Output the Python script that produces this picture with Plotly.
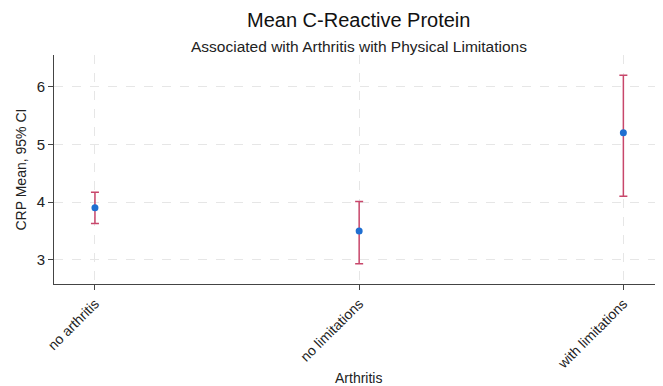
import plotly.graph_objects as go

categories = ["no arthritis", "no limitations", "with limitations"]
means = [3.90, 3.50, 5.20]
ci_lower = [3.63, 2.93, 4.10]
ci_upper = [4.17, 4.01, 6.20]

err_plus = [u - m for u, m in zip(ci_upper, means)]
err_minus = [m - l for m, l in zip(means, ci_lower)]

# page body has an 8px default margin; figure is sized/positioned to compensate
OFF = 8
W, H = 663 - OFF, 386 - OFF
ML, MR, MT, MB = 54 - OFF, 0, 55 - OFF, 102
plot_h = H - MT - MB

def py(ypix):
    # pixel row from top of window -> paper y
    return (H - MB - (ypix - OFF)) / plot_h

fig = go.Figure()
fig.add_trace(go.Scatter(
    x=list(range(len(categories))), y=means, mode="markers",
    marker=dict(color="#1f6fd1", size=7),
    error_y=dict(type="data", array=err_plus, arrayminus=err_minus,
                 color="#c8476b", thickness=1.5, width=4),
    showlegend=False,
))

font = "Liberation Sans, Arial, sans-serif"
fig.update_layout(
    width=W, height=H,
    margin=dict(l=ML, r=MR, t=MT, b=MB),
    paper_bgcolor="white", plot_bgcolor="white",
    font=dict(family=font, color="#222222", size=14),
    annotations=[
        dict(text="Mean C-Reactive Protein", x=0.5, xref="paper", y=py(20), yref="paper",
             yanchor="middle", showarrow=False, font=dict(size=20, color="#111111")),
        dict(text="Associated with Arthritis with Physical Limitations", x=0.5, xref="paper",
             y=py(46), yref="paper", yanchor="middle", showarrow=False,
             font=dict(size=15.5, color="#222222")),
        dict(text="Arthritis", x=0.5, xref="paper", y=py(378), yref="paper",
             yanchor="middle", showarrow=False, font=dict(size=14, color="#222222")),
        dict(text="CRP Mean, 95% CI", x=-34 / (W - ML - MR), xref="paper", y=0.5, yref="paper",
             textangle=-90, xanchor="center", yanchor="middle", showarrow=False,
             font=dict(size=14, color="#222222")),
    ],
    xaxis=dict(
        range=[-0.155, 2.15], tickmode="array", tickvals=list(range(len(categories))),
        ticktext=categories, tickangle=-45, tickfont=dict(size=14),
        showline=True, linecolor="#444444", linewidth=1, ticks="outside",
        ticklen=5, tickcolor="#444444", mirror=False, automargin=False,
        showgrid=True, gridcolor="#e6e6e6", griddash="dash", gridwidth=1,
        zeroline=False,
    ),
    yaxis=dict(
        range=[2.58, 6.55], tickvals=[3, 4, 5, 6], tickfont=dict(size=15),
        showline=True, linecolor="#444444", linewidth=1, ticks="outside",
        ticklen=5, tickcolor="#444444", automargin=False,
        showgrid=True, gridcolor="#e6e6e6", griddash="dash", gridwidth=1,
        zeroline=False,
    ),
)

fig.write_html("out.html")
